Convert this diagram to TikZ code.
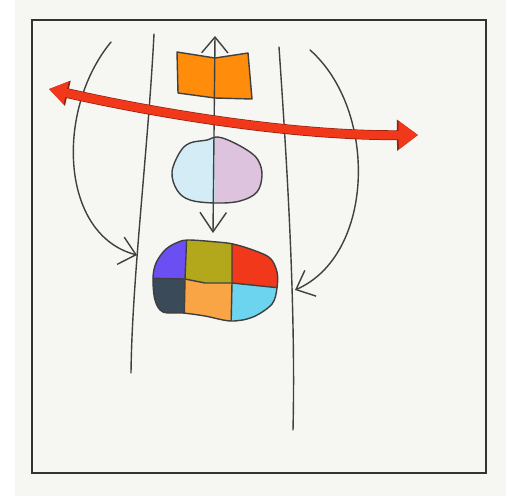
\documentclass[tikz,border=0pt]{standalone}
\usepackage{xcolor}
\usepackage{tikz}
\usetikzlibrary{arrows.meta}

\definecolor{fondo}{HTML}{F6F6F3}
\definecolor{naranja}{HTML}{FF8C0A}
\definecolor{celeste}{HTML}{D3ECF5}
\definecolor{rosa}{HTML}{DDC3DD}
\definecolor{morado}{HTML}{6B4FF2}
\definecolor{oliva}{HTML}{B3A81C}
\definecolor{rojo}{HTML}{F2381A}
\definecolor{pizarra}{HTML}{3B4A59}
\definecolor{mandarina}{HTML}{F9A545}
\definecolor{cian}{HTML}{6CD4EE}

% Contornos
\newcommand{\contornoNube}{plot[smooth cycle, tension=0.6] coordinates {(172,172) (180,152) (190,143) (207,140) (216,137) (228,140) (247,150) (258,160) (262,175) (257,192) (240,201) (216,203) (190,200) (177,190)}}
\newcommand{\contornoPlato}{plot[smooth cycle, tension=0.55] coordinates {(188,240) (217,242) (233,244) (253,250) (270,258) (277,272) (277,288) (272,304) (253,317) (231,321) (205,316) (183,313) (163,312) (155,300) (153,278) (156,263) (165,250) (176,243)}}

\begin{document}
\begin{tikzpicture}[x=0.02cm, y=-0.02cm,
  trazo/.style={line width=0.8pt, black!75, line cap=round, line join=round},
  flecha/.style={trazo, -{Straight Barb[length=9pt, width=16pt]}},
  borde/.style={line width=5.6pt, rojo!60!black, {Triangle[length=11pt, width=14pt]}-{Triangle[length=12pt, width=17pt]}},
  gruesa/.style={line width=4.8pt, rojo, {Triangle[length=10pt, width=12.5pt]}-{Triangle[length=11pt, width=15.5pt]}}]
  \useasboundingbox (0,0) rectangle (510,498);
  \fill[white] (0,0) rectangle (510,498);
  \fill[fondo] (15,0) rectangle (506,496);
  \draw[line width=1.1pt, black!80] (32,20) rectangle (486,473);

  % Nodos
  \coordinate (izqA) at (154,34);     % Linea izquierda, arriba
  \coordinate (izqB) at (131,373);    % Linea izquierda, abajo
  \coordinate (derA) at (279,47);     % Linea derecha, arriba
  \coordinate (derB) at (293,430);    % Linea derecha, abajo
  \coordinate (cenA) at (215,36);     % Flecha central, arriba
  \coordinate (cenB) at (213,233);    % Flecha central, abajo
  \coordinate (rojoI) at (49,89);     % Flecha roja, izquierda
  \coordinate (rojoD) at (418,135);   % Flecha roja, derecha
  \coordinate (curvaI) at (111,42);   % Curva izquierda, inicio
  \coordinate (finI) at (137,255);    % Curva izquierda, fin
  \coordinate (curvaD) at (310,50);   % Curva derecha, inicio
  \coordinate (finD) at (295,290);    % Curva derecha, fin

  % Libro
  \filldraw[trazo, fill=naranja] (177,52) -- (215,58) -- (248,53) -- (252,99) -- (215,98) -- (178,93) -- cycle;

  % Nube
  \begin{scope}
    \clip \contornoNube;
    \fill[celeste] (160,130) rectangle (215,210);
    \fill[rosa] (215,130) rectangle (270,210);
  \end{scope}
  \draw[trazo] \contornoNube;

  % Plato
  \begin{scope}
    \clip \contornoPlato;
    \fill[morado] (140,230) -- (187,230) -- (185,279) -- (140,278) -- cycle;
    \fill[oliva] (187,230) -- (232,230) -- (232,283) -- (205,283) -- (185,279) -- cycle;
    \fill[rojo] (232,230) -- (290,230) -- (290,289) -- (232,283) -- cycle;
    \fill[pizarra] (140,278) -- (185,279) -- (184,330) -- (140,330) -- cycle;
    \fill[mandarina] (185,279) -- (205,283) -- (232,283) -- (231,330) -- (184,330) -- cycle;
    \fill[cian] (232,283) -- (290,289) -- (290,330) -- (231,330) -- cycle;
    \draw[trazo] (187,230) -- (185,279) -- (184,330);
    \draw[trazo] (232,230) -- (232,283) -- (231,330);
    \draw[trazo] (140,278) -- (185,279) -- (205,283) -- (232,283) -- (290,289);
  \end{scope}
  \draw[trazo] \contornoPlato;

  % Aristas
  \draw[trazo] (izqA) .. controls (148,150) and (132,280) .. (izqB);
  \draw[trazo] (derA) .. controls (286,150) and (296,300) .. (derB);
  \draw[flecha, {Straight Barb[length=9pt, width=15pt]}-{Straight Barb[length=11pt, width=15pt]}] (cenA) -- (cenB);
  \draw[flecha] (curvaI) .. controls (55,110) and (60,235) .. (finI);
  \draw[flecha] (curvaD) .. controls (378,110) and (375,255) .. (finD);
  \draw[borde] (rojoI) .. controls (150,112) and (290,136) .. (rojoD);
  \draw[gruesa] (rojoI) .. controls (150,112) and (290,136) .. (rojoD);
\end{tikzpicture}
\end{document}
